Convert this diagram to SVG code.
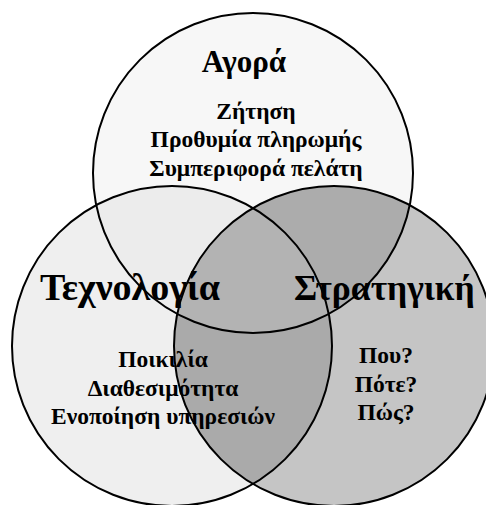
<svg xmlns="http://www.w3.org/2000/svg" width="486" height="505" viewBox="0 0 486 505">
<style>
.ring{fill:none;stroke:#000;stroke-width:2}
text{font-family:"Liberation Serif","Times New Roman",serif;font-weight:bold;fill:#000;text-anchor:middle}
.title{font-size:38px}
.top{font-size:31px}
.item{font-size:23.5px}
</style>
<defs>
<circle id="cT" cx="253" cy="173" r="160"/>
<circle id="cL" cx="172" cy="346" r="160"/>
<circle id="cR" cx="334" cy="346" r="160"/>
<clipPath id="clipT"><use href="#cT"/></clipPath>
<clipPath id="clipL"><use href="#cL"/></clipPath>
<clipPath id="clipR"><use href="#cR"/></clipPath>
</defs>
<rect width="486" height="505" fill="#fff"/>
<g id="agora">
<use href="#cT" fill="#f7f7f7"/>
</g>
<g id="technologia">
<use href="#cL" fill="#efefef"/>
<g clip-path="url(#clipT)"><use href="#cL" fill="#ececec"/></g>
</g>
<g id="stratigiki">
<use href="#cR" fill="#c5c5c5"/>
<g clip-path="url(#clipT)"><use href="#cR" fill="#acacac"/></g>
<g clip-path="url(#clipL)"><use href="#cR" fill="#aaaaaa"/></g>
<g clip-path="url(#clipL)"><g clip-path="url(#clipT)"><use href="#cR" fill="#b3b3b3"/></g></g>
</g>
<g id="labels">
<text class="top" x="244" y="72">Αγορά</text>
<text class="item" x="256" y="119">Ζήτηση</text>
<text class="item" x="256" y="147">Προθυμία πληρωμής</text>
<text class="item" x="256" y="176">Συμπεριφορά πελάτη</text>
<text class="title" x="130" y="300">Τεχνολογία</text>
<text x="294" y="300" style="text-anchor:start;font-size:35.5px">Στρατηγική</text>
<text class="item" x="163" y="367">Ποικιλία</text>
<text class="item" x="163" y="396">Διαθεσιμότητα</text>
<text class="item" x="163" y="424">Ενοποίηση υπηρεσιών</text>
<text class="item" x="386" y="363">Που?</text>
<text class="item" x="386" y="392">Πότε?</text>
<text class="item" x="386" y="420">Πώς?</text>
</g>
<g id="connectors">
<use href="#cT" class="ring"/>
<use href="#cL" class="ring"/>
<use href="#cR" class="ring"/>
</g>
</svg>
